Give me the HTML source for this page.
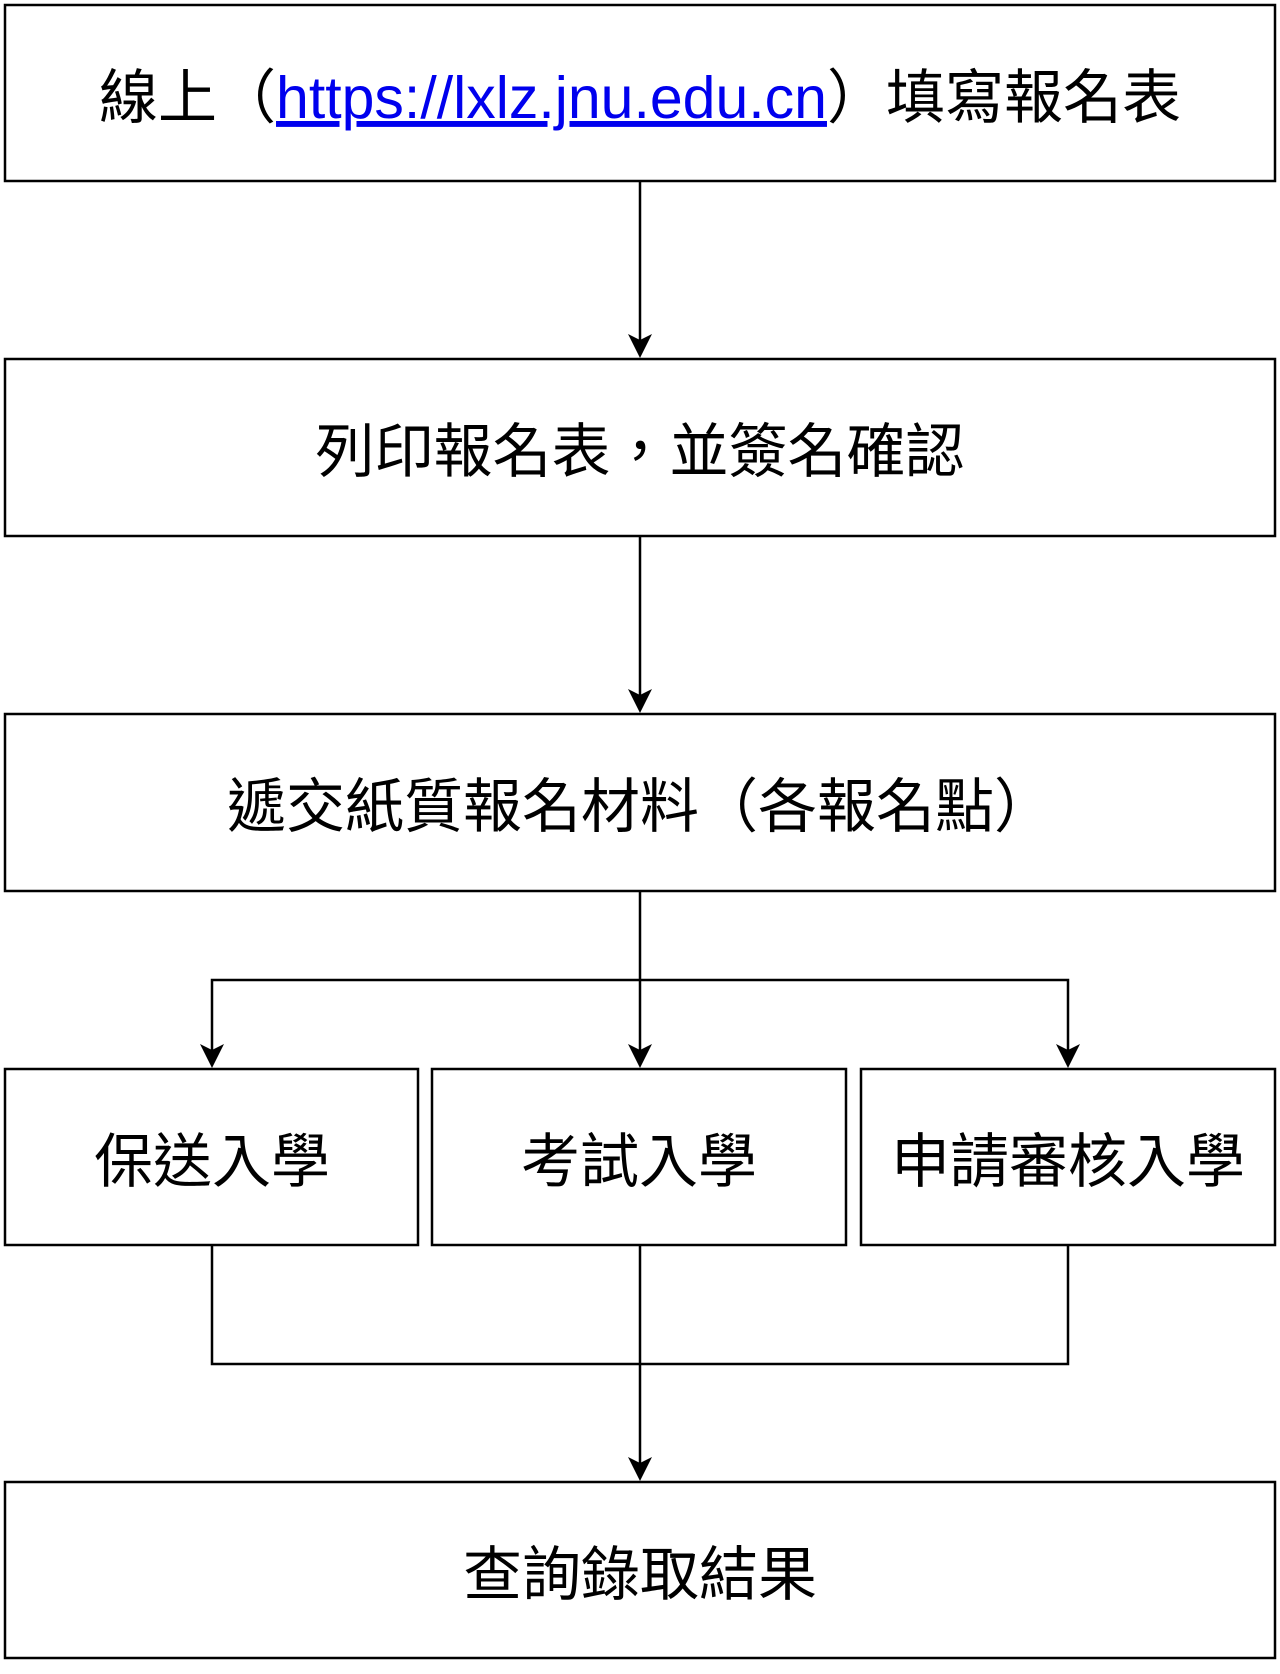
<!DOCTYPE html>
<html><head><meta charset="utf-8"><style>
html,body{margin:0;padding:0;background:#fff;}
svg text{font-family:"Liberation Sans","Noto Sans CJK TC",sans-serif;font-size:59px;fill:#000;}
</style></head><body>
<svg width="1280" height="1669" xmlns="http://www.w3.org/2000/svg">
<g fill="none" stroke="#000" stroke-width="2.5">
<rect x="5" y="5" width="1270" height="176"/>
<rect x="5" y="359" width="1270" height="177"/>
<rect x="5" y="714" width="1270" height="177"/>
<rect x="5" y="1069" width="413" height="176"/>
<rect x="432" y="1069" width="414" height="176"/>
<rect x="861" y="1069" width="414" height="176"/>
<rect x="5" y="1482" width="1270" height="176"/>
</g>
<g stroke="#000" stroke-width="2.5" fill="none">
<line x1="640" y1="181" x2="640" y2="346"/>
<line x1="640" y1="536" x2="640" y2="701"/>
<line x1="640" y1="891" x2="640" y2="1056"/>
<polyline points="212,1056 212,980 1068,980 1068,1056"/>
<polyline points="212,1245 212,1364 1068,1364 1068,1245"/>
<line x1="640" y1="1245" x2="640" y2="1469"/>
</g>
<g fill="#000">
<path d="M628,334 L640,358 L652,334 L640,340 z"/>
<path d="M628,689 L640,713 L652,689 L640,695 z"/>
<path d="M628,1044 L640,1068 L652,1044 L640,1050 z"/>
<path d="M200,1044 L212,1068 L224,1044 L212,1050 z"/>
<path d="M1056,1044 L1068,1068 L1080,1044 L1068,1050 z"/>
<path d="M628,1457 L640,1481 L652,1457 L640,1463 z"/>
</g>
<text x="640" y="118" text-anchor="middle">線上（<tspan fill="#0000ee" text-decoration="underline">https://lxlz.jnu.edu.cn</tspan>）填寫報名表</text>
<text x="640" y="472" text-anchor="middle">列印報名表，並簽名確認</text>
<text x="640" y="827" text-anchor="middle">遞交紙質報名材料（各報名點）</text>
<text x="212" y="1182" text-anchor="middle">保送入學</text>
<text x="639" y="1182" text-anchor="middle">考試入學</text>
<text x="1068" y="1182" text-anchor="middle">申請審核入學</text>
<text x="640" y="1595" text-anchor="middle">查詢錄取結果</text>
</svg>
</body></html>
